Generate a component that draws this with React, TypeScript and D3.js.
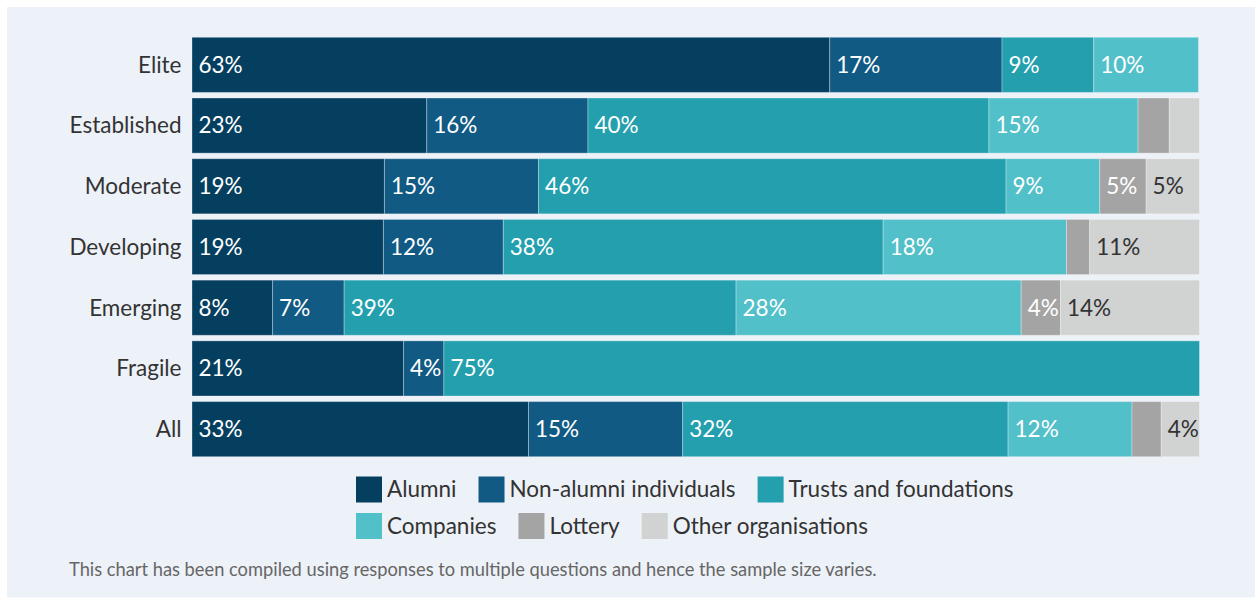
import React from "react";
import * as d3 from "d3";

const categories = ["Elite", "Established", "Moderate", "Developing", "Emerging", "Fragile", "All"];
const seriesNames = ["Alumni", "Non-alumni individuals", "Trusts and foundations", "Companies", "Lottery", "Other organisations"];
const seriesColors = ["#053f5f", "#115a84", "#239fae", "#52c0c9", "#a4a4a4", "#d1d2d2"];
const labelColors = ["#ffffff", "#ffffff", "#ffffff", "#ffffff", "#ffffff", "#333333"];

const alumni = [63.3, 23.3, 19.1, 19.0, 8.0, 21.0, 33.4];
const nonAlumni = [17.1, 16.0, 15.3, 11.9, 7.1, 4.0, 15.3];
const trusts = [9.1, 39.8, 46.4, 37.7, 38.9, 75.0, 32.3];
const companies = [10.4, 14.8, 9.3, 18.2, 28.3, 0, 12.3];
const lottery = [0, 3.1, 4.6, 2.3, 3.9, 0, 2.9];
const other = [0, 3.0, 5.3, 10.9, 13.8, 0, 3.8];

const footnote = "This chart has been compiled using responses to multiple questions and hence the sample size varies.";

const W = 1255;
const H = 598;
const FONT = "Lato, 'Open Sans', sans-serif";
const FS = 22.5;

const measure = (() => {
  let ctx: CanvasRenderingContext2D | null = null;
  return (text: string, size: number) => {
    if (!ctx) ctx = document.createElement("canvas").getContext("2d");
    if (!ctx) return text.length * size * 0.5;
    ctx.font = `400 ${size}px Lato`;
    return ctx.measureText(text).width;
  };
})();

export default function App() {
  const series = [alumni, nonAlumni, trusts, companies, lottery, other];
  const rows = categories.map((c, i) => {
    const obj: Record<string, number | string> = { cat: c };
    seriesNames.forEach((s, k) => (obj[s] = series[k][i]));
    return obj;
  });
  const stack = d3.stack<Record<string, number | string>>().keys(seriesNames).value((d, k) => d[k] as number);
  const stacked = stack(rows);

  const x = d3.scaleLinear().domain([0, 100]).range([192, 1199.5]);
  const y = d3
    .scaleBand<string>()
    .domain(categories)
    .range([34.5, 459.5])
    .paddingInner(0.092)
    .paddingOuter(0.046);

  const legendRows = [seriesNames.slice(0, 3), seriesNames.slice(3)];
  const legendY = [489.5, 526];
  const legendX0 = 356;
  const sq = 26;
  const legendItems: { name: string; idx: number; x: number; y: number }[] = [];
  legendRows.forEach((r, ri) => {
    let cx = legendX0;
    r.forEach((name) => {
      legendItems.push({ name, idx: seriesNames.indexOf(name), x: cx, y: legendY[ri] });
      cx += sq + 5 + measure(name, FS) + 22;
    });
  });

  return (
    <svg
      width={W}
      height={H}
      style={{ position: "absolute", left: 0, top: 0, display: "block" }}
      fontFamily={FONT}
      fontWeight={400}
    >
      <rect x={0} y={0} width={W} height={H} fill="#ffffff" />
      <rect x={7} y={7} width={W - 7} height={H - 7.5} fill="#edf1f8" />
      {categories.map((c) => (
        <text
          key={c}
          x={181.5}
          y={(y(c) ?? 0) + y.bandwidth() / 2}
          dy="0.35em"
          textAnchor="end"
          fontSize={FS}
          fill="#333333"
        >
          {c}
        </text>
      ))}
      {stacked.map((layer, k) => (
        <g key={layer.key}>
          {layer.map((d, i) => {
            const v = d[1] - d[0];
            if (v <= 0) return null;
            const x0 = x(d[0]);
            const x1 = x(d[1]);
            const by = y(categories[i]) ?? 0;
            return (
              <g key={i}>
                <rect
                  x={x0}
                  y={by}
                  width={x1 - x0}
                  height={y.bandwidth()}
                  fill={seriesColors[k]}
                  stroke="rgba(255,255,255,0.3)"
                  strokeWidth={1}
                />
                {Math.round(v) >= 4 && (
                  <text
                    x={x0 + 6.5}
                    y={by + y.bandwidth() / 2}
                    dy="0.35em"
                    fontSize={FS}
                    fill={labelColors[k]}
                  >
                    {Math.round(v)}%
                  </text>
                )}
              </g>
            );
          })}
        </g>
      ))}
      {legendItems.map((it) => (
        <g key={it.name}>
          <rect x={it.x} y={it.y - sq / 2} width={sq} height={sq} fill={seriesColors[it.idx]} />
          <text x={it.x + sq + 5} y={it.y} dy="0.35em" fontSize={FS} fill="#333333">
            {it.name}
          </text>
        </g>
      ))}
      <text x={69} y={570} dy="0.35em" fontSize={18.3} fill="#666666">
        {footnote}
      </text>
    </svg>
  );
}
